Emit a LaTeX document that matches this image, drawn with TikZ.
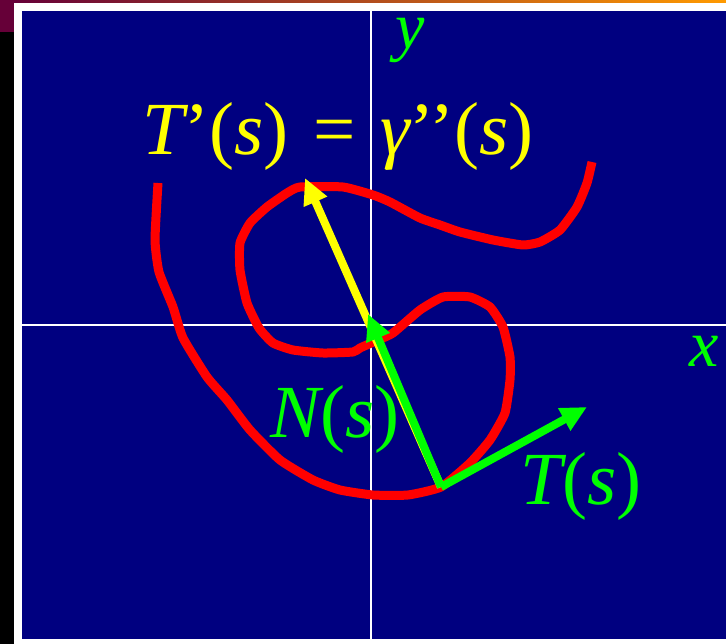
\documentclass[tikz,border=0pt]{standalone}
\usepackage{fontspec}
\setmainfont{Liberation Serif}
\usetikzlibrary{arrows.meta}
\definecolor{navybg}{HTML}{000080}
\definecolor{maroonbar}{HTML}{660038}
\definecolor{orangebar}{HTML}{FF9A00}
\definecolor{curvered}{HTML}{FF0000}
\definecolor{vecgreen}{HTML}{00FF00}
\definecolor{vecyellow}{HTML}{FFFF00}
\tikzset{
  axisline/.style={white, line width=2.5pt},
  vecarrow/.style={line width=8pt, -{Triangle[length=26pt,width=24pt]}},
  biglabel/.style={anchor=base, inner sep=0pt, font=\fontsize{75}{80}\selectfont},
  axislabel/.style={anchor=base, inner sep=0pt, text height=0.45em, text=vecgreen, font=\fontsize{66}{70}\selectfont\itshape},
}
\begin{document}
\begin{tikzpicture}[x=1pt,y=-1pt]
\useasboundingbox (0,0) rectangle (726,644);
% frame
\fill[white] (0,0) rectangle (726,644);
\fill[black] (0,0) rectangle (14,644);
\fill[maroonbar] (0,0) rectangle (14,32);
\shade[left color=maroonbar, right color=orangebar] (14,0) rectangle (726,3);
\fill[navybg] (22,11) rectangle (726,639);
% axes
\coordinate (ytop) at (371,11);
\coordinate (ybot) at (371,639);
\coordinate (xleft) at (22,325);
\coordinate (xright) at (726,325);
\draw[axisline] (ytop) -- (ybot);
\draw[axisline] (xleft) -- (xright);
\node[axislabel] (ylab) at (410,49) {y};
\node[axislabel] (xlab) at (704,367) {x};
% curve
\draw[curvered, line width=9pt, line join=round, line cap=butt]
  plot[smooth, tension=0.3] coordinates {
  (158,183) (155,240) (159,272) (173,307) (183,338) (207,377) (227,400)
  (250,430) (280,460) (313,480) (340,490) (373,495) (408,495) (441,487)
  (470,463) (490,440) (505,413) (510,380) (510,357) (503,327) (490,307)
  (470,297) (443,297) (420,310) (393,333) (378,340) (360,348) (353,352)
  (323,353) (293,350) (273,343) (259,328) (247,303) (240,270) (240,243)
  (250,223) (267,207) (287,193) (300,187) (343,187) (373,195) (390,202)
  (420,218) (440,225) (460,232) (493,240) (523,245) (540,242) (560,230)
  (577,207) (587,183) (592,162)};
% vectors
\coordinate (P) at (441,487);
\coordinate (Ttip) at (587,407);
\coordinate (Ntip) at (368,314);
\coordinate (Ytip) at (305,178);
\draw[vecarrow, vecyellow] (P) -- (Ytip);
\draw[vecarrow, vecgreen] (P) -- (Ntip);
\draw[vecarrow, vecgreen] (P) -- (Ttip);
% labels
\node[biglabel, text=vecyellow] (eq) at (338,155) {\itshape T\upshape’(\itshape s\upshape)\hspace{0.08em} = \hspace{0.08em}\itshape γ\upshape’’(\itshape s\upshape)};
\node[biglabel, text=vecgreen] (Nlab) at (335,438) {\itshape N\upshape(\itshape s\upshape)};
\node[biglabel, text=vecgreen] (Tlab) at (581,504) {\itshape T\upshape(\itshape s\upshape)};
\end{tikzpicture}
\end{document}
